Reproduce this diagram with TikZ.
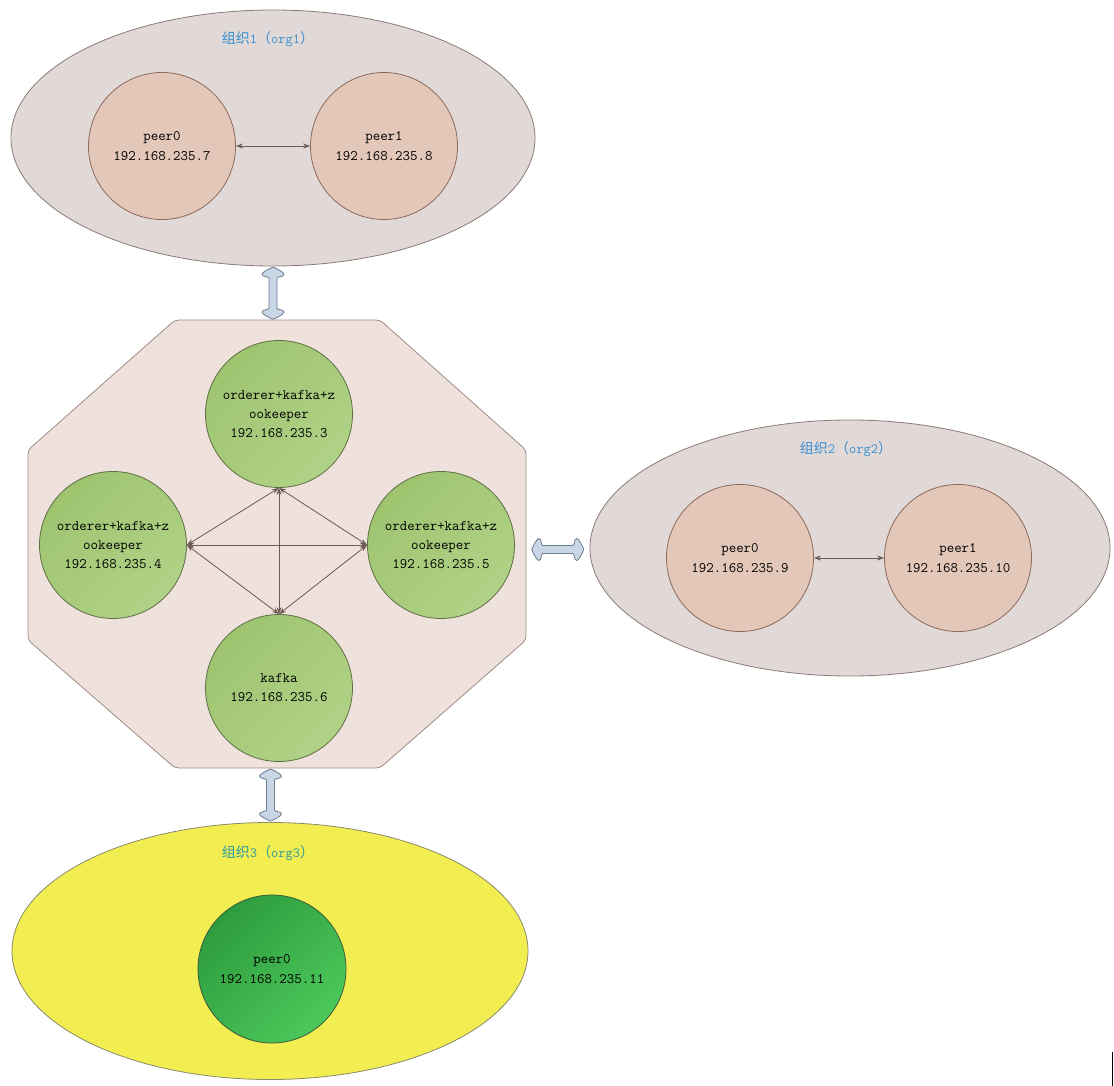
\documentclass[tikz,border=0pt]{standalone}
\usepackage{fontspec}
\newfontfamily\cjk{Noto Sans CJK SC}
\usetikzlibrary{arrows.meta,shapes.geometric,calc}
\definecolor{orgfill}{HTML}{E0D9D7}
\definecolor{orgline}{HTML}{8A7A75}
\definecolor{peerfill}{HTML}{E3C7B9}
\definecolor{peerline}{HTML}{8A6A5A}
\definecolor{octfill}{HTML}{EFE1DB}
\definecolor{octline}{HTML}{A08C86}
\definecolor{grnA}{HTML}{9EC470}
\definecolor{grnB}{HTML}{B0D286}
\definecolor{grnline}{HTML}{5F6E45}
\definecolor{lnk}{HTML}{6B5A55}
\definecolor{yelfill}{HTML}{F2EE52}
\definecolor{yelline}{HTML}{8A8A6A}
\definecolor{dgA}{HTML}{2E9C3E}
\definecolor{dgB}{HTML}{4CC85A}
\definecolor{dgline}{HTML}{3A5A3A}
\definecolor{dafill}{HTML}{C8D6E6}
\definecolor{daline}{HTML}{6D7C8C}
\definecolor{lblblue}{HTML}{3B8ED0}
\definecolor{lblteal}{HTML}{2A9AA0}
\tikzset{
  orgell/.style={ellipse, draw=orgline, fill=orgfill, line width=0.8pt},
  peerc/.style={circle, draw=peerline, fill=peerfill, line width=0.8pt, minimum size=147pt, inner sep=0pt,
    align=center, font=\fontsize{14.5}{20}\ttfamily},
  grnc/.style={circle, draw=grnline, shading=axis, left color=grnA, right color=grnB, shading angle=45,
    line width=0.8pt, minimum size=147pt, inner sep=0pt,
    align=center, font=\fontsize{14.5}{19}\ttfamily},
  lbl/.style={font=\fontsize{14}{16}\cjk},
  lnkline/.style={draw=lnk, line width=0.8pt, {Stealth[length=7pt,width=5pt]}-{Stealth[length=7pt,width=5pt]}},
  dblarr/.style={draw=daline, fill=dafill, line width=0.8pt, line join=round}
}
\newcommand{\dblarrowpath}{%
  (-4,-15) .. controls (-4,-17) and (-11,-16) .. (-11,-19)
  .. controls (-11,-21) and (-3,-25) .. (0,-26)
  .. controls (3,-25) and (11,-21) .. (11,-19)
  .. controls (11,-16) and (4,-17) .. (4,-15)
  -- (4,15) .. controls (4,17) and (11,16) .. (11,19)
  .. controls (11,21) and (3,25) .. (0,26)
  .. controls (-3,25) and (-11,21) .. (-11,19)
  .. controls (-11,16) and (-4,17) .. (-4,15) -- cycle}
\begin{document}
\begin{tikzpicture}[x=1pt,y=-1pt]
\useasboundingbox (0,0) rectangle (1114,1086);
% org1
\node[orgell, minimum width=524pt, minimum height=256pt] (org1) at (273,138) {};
\node[lbl, text=lblblue] (l1) at (268,39) {组织{\ttfamily 1}（{\ttfamily org1}）};
\node[peerc] (p10) at (162,146) {peer0\\192.168.235.7};
\node[peerc] (p11) at (384,146) {peer1\\192.168.235.8};
\draw[lnkline] (p10) -- (p11);
% octagon
\draw[draw=octline, fill=octfill, line width=0.8pt, rounded corners=4pt]
  (175,320) -- (380,320) -- (526,450) -- (526,640) -- (380,768) -- (175,768) -- (28,640) -- (28,450) -- cycle;
\coordinate (oN) at (279,320);
\coordinate (oS) at (279,768);
\coordinate (oE) at (526,545);
\node[grnc] (ot) at (279,414) {orderer+kafka+z\\ookeeper\\192.168.235.3};
\node[grnc] (ol) at (113,545) {orderer+kafka+z\\ookeeper\\192.168.235.4};
\node[grnc] (or) at (441,545) {orderer+kafka+z\\ookeeper\\192.168.235.5};
\node[grnc] (ob) at (279,688) {kafka\\192.168.235.6};
\draw[lnkline] (ol.east) -- (or.west);
\draw[lnkline] (ot.south) -- (ob.north);
\draw[lnkline] (ol.east) -- (ot.south);
\draw[lnkline] (ot.south) -- (or.west);
\draw[lnkline] (or.west) -- (ob.north);
\draw[lnkline] (ob.north) -- (ol.east);
% org2
\node[orgell, minimum width=520pt, minimum height=256pt] (org2) at (850,548) {};
\node[lbl, text=lblblue] (l2) at (846,449) {组织{\ttfamily 2}（{\ttfamily org2}）};
\node[peerc] (p20) at (740,558) {peer0\\192.168.235.9};
\node[peerc] (p21) at (958,558) {peer1\\192.168.235.10};
\draw[lnkline] (p20) -- (p21);
% org3
\node[ellipse, draw=yelline, fill=yelfill, line width=0.8pt, minimum width=516pt, minimum height=257pt] (org3) at (270,951) {};
\node[lbl, text=lblteal] (l3) at (268,853) {组织{\ttfamily 3}（{\ttfamily org3}）};
\node[circle, draw=dgline, shading=axis, left color=dgA, right color=dgB, shading angle=45, line width=0.8pt,
  minimum size=148pt, inner sep=0pt, align=center, font=\fontsize{14.5}{20}\ttfamily] (p30) at (272,969) {peer0\\192.168.235.11};
% double arrows (between org ellipses and the octagon)
\coordinate (d1) at ($(org1.south)!0.5!(oN)+(-3,0)$);
\coordinate (d2) at ($(oE)!0.5!(org2.west)+(0,3)$);
\coordinate (d3) at ($(oS)!0.5!(org3.north)+(-4,0)$);
\begin{scope}[shift={(d1)}]
  \draw[dblarr] \dblarrowpath;
\end{scope}
\begin{scope}[shift={(d2)}, rotate=90]
  \draw[dblarr] \dblarrowpath;
\end{scope}
\begin{scope}[shift={(d3)}]
  \draw[dblarr] \dblarrowpath;
\end{scope}
% artifact
\draw[black, line width=1.2pt] (1112.5,1052) -- (1112.5,1086);
\end{tikzpicture}
\end{document}
